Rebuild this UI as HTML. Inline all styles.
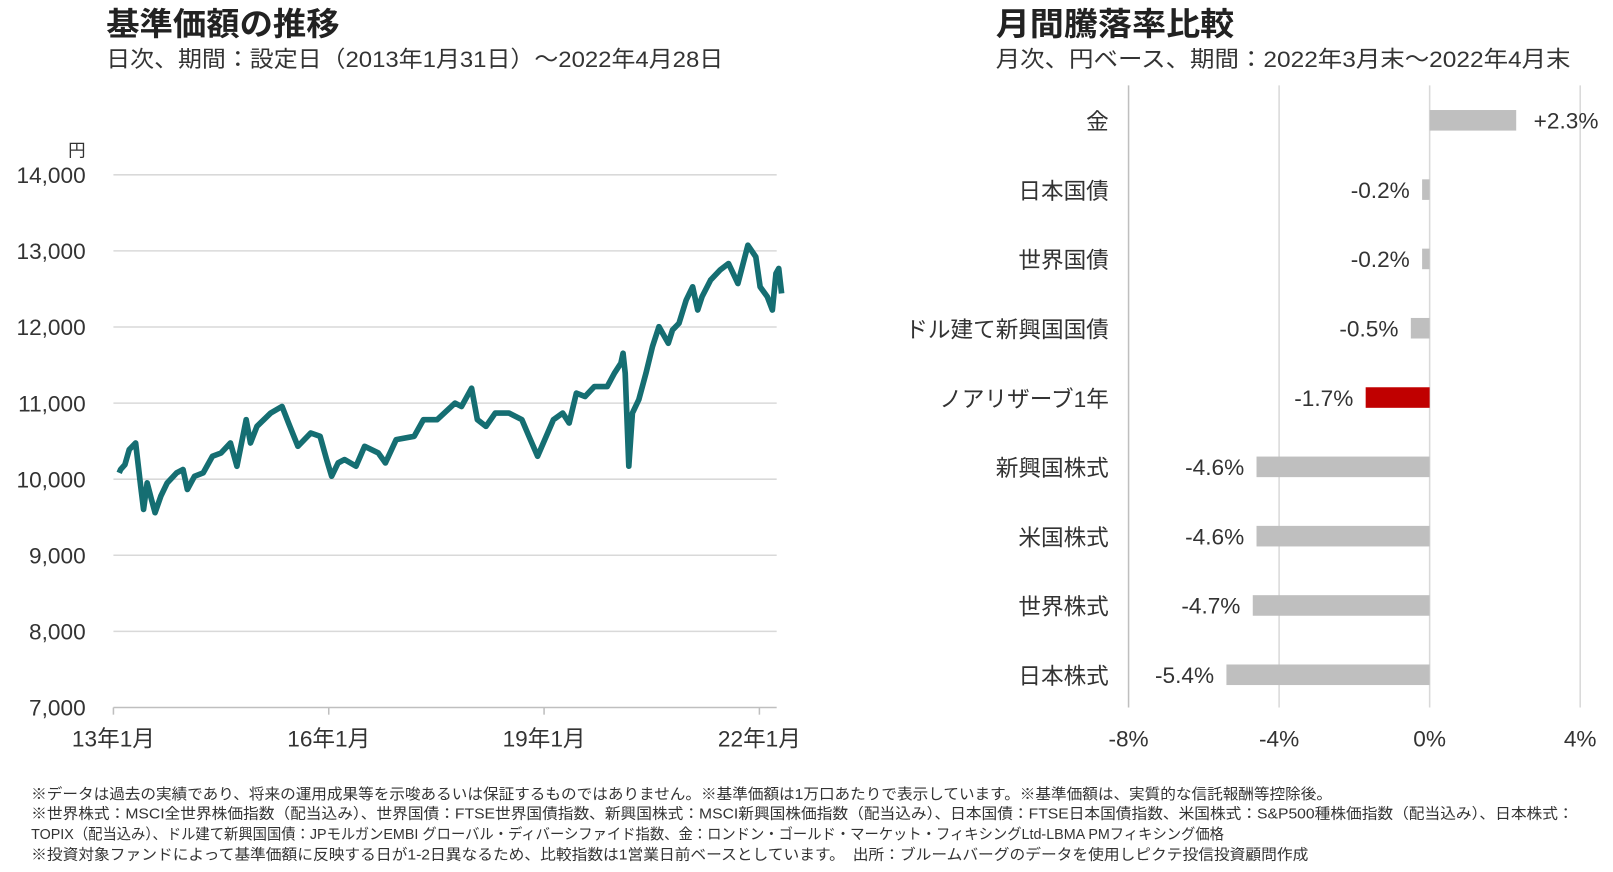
<!DOCTYPE html>
<html><head><meta charset="utf-8"><style>
html,body{margin:0;padding:0;background:#fff;}
svg{display:block;font-family:"Liberation Sans","Noto Sans CJK JP",sans-serif;}
</style></head><body>
<svg id="c" width="1613" height="872" viewBox="0 0 1568 848">
<text x="103" y="34" font-size="31" font-weight="bold" fill="#222" textLength="227" lengthAdjust="spacingAndGlyphs">基準価額の推移</text>
<text x="103" y="65" font-size="22" fill="#333" textLength="600" lengthAdjust="spacingAndGlyphs">日次、期間：設定日（2013年1月31日）～2022年4月28日</text>
<text x="968" y="34" font-size="31" font-weight="bold" fill="#222" textLength="232" lengthAdjust="spacingAndGlyphs">月間騰落率比較</text>
<text x="968" y="65" font-size="22" fill="#333" textLength="559" lengthAdjust="spacingAndGlyphs">月次、円ベース、期間：2022年3月末～2022年4月末</text>
<text x="83" y="152" font-size="17" text-anchor="end" fill="#333">円</text>
<g id="left"></g>
<g id="right"></g>
<g font-size="14.5" fill="#333" lengthAdjust="spacingAndGlyphs">
<text x="30" y="777" textLength="1265" lengthAdjust="spacingAndGlyphs">※データは過去の実績であり、将来の運用成果等を示唆あるいは保証するものではありません。※基準価額は1万口あたりで表示しています。※基準価額は、実質的な信託報酬等控除後。</text>
<text x="30" y="796" textLength="1500" lengthAdjust="spacingAndGlyphs">※世界株式：MSCI全世界株価指数（配当込み）、世界国債：FTSE世界国債指数、新興国株式：MSCI新興国株価指数（配当込み）、日本国債：FTSE日本国債指数、米国株式：S&amp;P500種株価指数（配当込み）、日本株式：</text>
<text x="30" y="816" textLength="1160" lengthAdjust="spacingAndGlyphs">TOPIX（配当込み）、ドル建て新興国国債：JPモルガンEMBI グローバル・ディバーシファイド指数、金：ロンドン・ゴールド・マーケット・フィキシングLtd-LBMA PMフィキシング価格</text>
<text x="30" y="836" textLength="1242" lengthAdjust="spacingAndGlyphs">※投資対象ファンドによって基準価額に反映する日が1-2日異なるため、比較指数は1営業日前ベースとしています。　出所：ブルームバーグのデータを使用しピクテ投信投資顧問作成</text>
</g>
</svg>
<script>
const yTicks=[7000,8000,9000,10000,11000,12000,13000,14000];
const yTickLabels=["7,000","8,000","9,000","10,000","11,000","12,000","13,000","14,000"];
const xTicks=[2013,2016,2019,2022];
const xTickLabels=["13年1月","16年1月","19年1月","22年1月"];
const navDates=[2013.08,2013.10,2013.16,2013.22,2013.31,2013.38,2013.42,2013.47,2013.53,2013.58,2013.66,2013.75,2013.88,2013.97,2014.03,2014.13,2014.25,2014.38,2014.50,2014.63,2014.72,2014.85,2014.91,2015.00,2015.19,2015.35,2015.44,2015.57,2015.75,2015.88,2015.97,2016.04,2016.13,2016.22,2016.38,2016.50,2016.69,2016.79,2016.94,2017.19,2017.32,2017.51,2017.76,2017.85,2017.99,2018.07,2018.19,2018.32,2018.51,2018.69,2018.79,2018.91,2019.01,2019.13,2019.26,2019.35,2019.45,2019.57,2019.70,2019.88,2019.98,2020.07,2020.10,2020.13,2020.18,2020.23,2020.32,2020.42,2020.51,2020.60,2020.73,2020.79,2020.88,2020.98,2021.07,2021.14,2021.20,2021.32,2021.45,2021.57,2021.70,2021.84,2021.95,2022.01,2022.11,2022.18,2022.23,2022.27,2022.31];
const navValues=[10083,10127,10192,10389,10476,9908,9603,9952,9734,9559,9777,9952,10083,10127,9865,10039,10083,10301,10345,10476,10170,10782,10476,10694,10869,10956,10738,10432,10607,10563,10258,10039,10214,10258,10170,10432,10345,10214,10520,10563,10782,10782,11000,10956,11196,10782,10694,10869,10869,10782,10563,10301,10520,10782,10869,10738,11131,11087,11218,11218,11393,11524,11655,11393,10170,10869,11044,11393,11742,12004,11786,11961,12048,12354,12528,12223,12397,12616,12747,12834,12572,13074,12921,12528,12397,12223,12703,12769,12441];
const categories=["金","日本国債","世界国債","ドル建て新興国国債","ノアリザーブ1年","新興国株式","米国株式","世界株式","日本株式"];
const returns=[2.3,-0.2,-0.2,-0.5,-1.7,-4.6,-4.6,-4.7,-5.4];
const returnLabels=["+2.3%","-0.2%","-0.2%","-0.5%","-1.7%","-4.6%","-4.6%","-4.7%","-5.4%"];
const highlight="ノアリザーブ1年";
const rTicks=[-8,-4,0,4];
const rTickLabels=["-8%","-4%","0%","4%"];

const NS="http://www.w3.org/2000/svg";
function mk(tag,attrs,parent,txt){const e=document.createElementNS(NS,tag);for(const k in attrs)e.setAttribute(k,attrs[k]);if(txt!==undefined)e.textContent=txt;parent.appendChild(e);return e;}
const yS=v=>688-(v-7000)/7000*518;
const xS=t=>110+(t-2013)*69.8;
const L=document.getElementById('left');
yTicks.forEach((v,i)=>{
 if(v>7000){const g=mk('line',{x1:110,x2:755,y1:yS(v),y2:yS(v),stroke:'#d9d9d9','stroke-width':1.5},L);
 
 }
 const t=mk('text',{x:83,y:yS(v)+8,'font-size':22,'text-anchor':'end',fill:'#333'},L,yTickLabels[i]);
 
 
});
const ax=mk('line',{x1:110,x2:755,y1:688,y2:688,stroke:'#bfbfbf','stroke-width':1.5},L);


xTicks.forEach((v,i)=>{
 const tk=mk('line',{x1:xS(v),x2:xS(v),y1:688,y2:695,stroke:'#bfbfbf','stroke-width':1.5},L);
 
 
 const t=mk('text',{x:xS(v),y:726,'font-size':22,'text-anchor':'middle',fill:'#333'},L,xTickLabels[i]);
 
 
});
const pts=navDates.map((d,i)=>xS(d).toFixed(1)+','+yS(navValues[i]).toFixed(1)).join(' ');
const pl=mk('polyline',{points:pts,fill:'none',stroke:'#156e72','stroke-width':5.5,'stroke-linejoin':'round'},L);



const R=document.getElementById('right');
const rx=v=>1390+v*36.6;
const ry=i=>117+i*67.4;
rTicks.forEach((v,i)=>{
 const g=mk('line',{x1:rx(v),x2:rx(v),y1:83,y2:688,stroke:v===-8?'#bfbfbf':'#d9d9d9','stroke-width':1.5},R);
 
 
 const t=mk('text',{x:rx(v),y:726,'font-size':22,'text-anchor':'middle',fill:'#333'},R,rTickLabels[i]);
 
 
});
categories.forEach((c,i)=>{
 const y=ry(i), v=returns[i];
 const x0=Math.min(rx(0),rx(v)), w=Math.abs(rx(v)-rx(0));
 const b=mk('rect',{x:x0,y:y-10,width:Math.max(w,1),height:20,fill:c===highlight?'#c00000':'#bfbfbf'},R);
 
 
 const cl=mk('text',{x:1078,y:y+9,'font-size':22,'text-anchor':'end',fill:'#333'},R,c);
 
 
 const vl=v>=0?mk('text',{x:rx(v)+17,y:y+8,'font-size':22,fill:'#333'},R,returnLabels[i]):mk('text',{x:rx(v)-12,y:y+8,'font-size':22,'text-anchor':'end',fill:'#333'},R,returnLabels[i]);
 
 
});
</script>
</body></html>
